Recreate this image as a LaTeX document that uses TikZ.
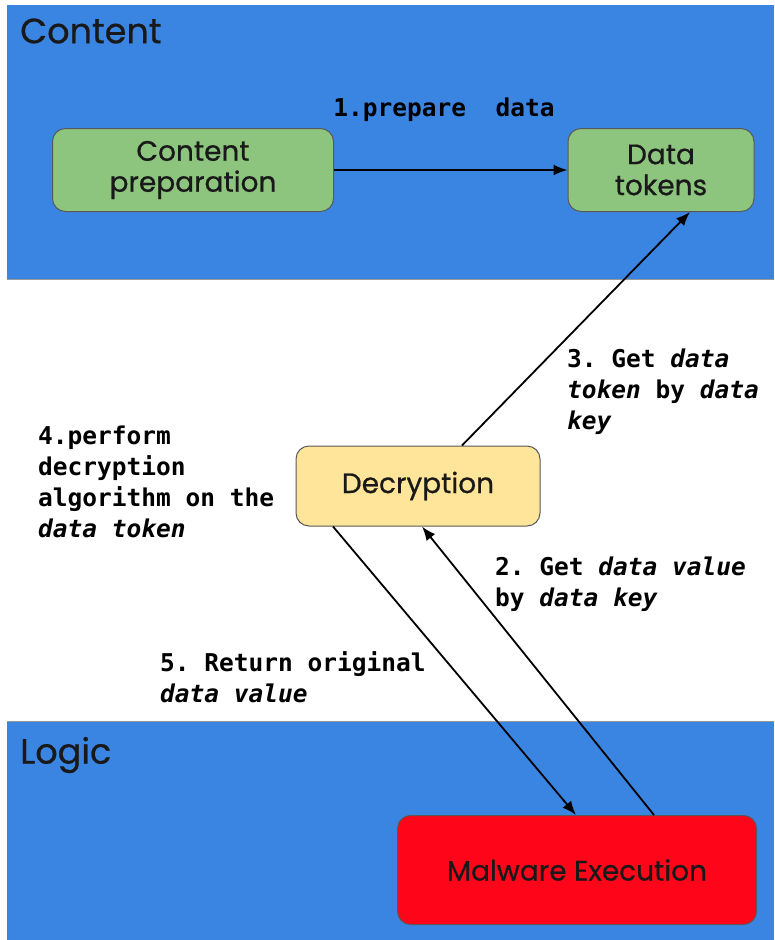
\documentclass[tikz,border=0pt]{standalone}
\usepackage{fontspec}
\setmainfont{Poppins}[FakeBold=0.7]
\setmonofont{DejaVu Sans Mono}
\usepackage{xcolor}
\usepackage{tikz}
\usetikzlibrary{arrows.meta, positioning}

\definecolor{bandblue}{RGB}{59,133,226}
\definecolor{boxgreen}{RGB}{141,196,126}
\definecolor{boxyellow}{RGB}{255,229,153}
\definecolor{boxred}{RGB}{255,5,26}

\begin{document}
\begin{tikzpicture}[ % pixel grid of the reference
    x=1pt, y=-1pt,
    band/.style={fill=bandblue, draw=none},
    title/.style={anchor=west, inner sep=0pt, text=black!90, font=\fontsize{35}{40}\selectfont},
    block/.style={rectangle, draw=black!65, line width=1pt, rounded corners=13pt, align=center, text=black!90, font=\fontsize{28}{31}\selectfont},
    step label/.style={anchor=north west, inner sep=0pt, align=left, font=\ttfamily\bfseries\fontsize{24.5}{31}\selectfont},
    line/.style={draw, line width=1.8pt, -{Latex[length=14pt, width=11pt]}}
    ]

    \useasboundingbox (0,0) rectangle (774,940);
    \fill[white] (0,0) rectangle (774,940);

    % Bands
    \path [band] (7,5) rectangle (774,279);
    \path [band] (7,721) rectangle (774,940);
    \draw [black!40, line width=1pt] (7,279) -- (774,279);
    \draw [black!40, line width=1pt] (7,721) -- (774,721);
    \node [title] (contentTitle) at (20,31) {Content};
    \node [title] (logicTitle) at (20,755) {Logic};

    % Boxes
    \node [block, fill=boxgreen, minimum width=281pt, minimum height=83pt] (prep) at (193,170) {Content\\preparation};
    \node [block, fill=boxgreen, minimum width=186pt, minimum height=83pt] (tokens) at (661,170) {Data\\tokens};
    \node [block, fill=boxyellow, minimum width=244pt, minimum height=80pt] (decrypt) at (418,486) {Decryption};
    \node [block, fill=boxred, minimum width=359pt, minimum height=109pt] (malware) at (577,870) {Malware Execution};

    % Step labels
    \node [step label, anchor=center] (l1) at (444,110) {1.prepare\ \ data};
    \node [step label] (l3) at (567,349) {3. Get \textit{data}\\\textit{token} by \textit{data}\\\textit{key}};
    \node [step label] (l4) at (38,426) {4.perform\\decryption\\algorithm on the\\\textit{data token}};
    \node [step label] (l2) at (495,557) {2. Get \textit{data value}\\by \textit{data key}};
    \node [step label] (l5) at (160,651) {5. Return original\\\textit{data value}};

    % Draw edges
    \path [line] (prep) -- (tokens);
    \path [line] ([xshift=-85pt]decrypt.south) -- ([xshift=-1pt]malware.north);
    \path [line] ([xshift=77pt]malware.north) -- ([xshift=4pt]decrypt.south);
    \path [line] ([xshift=44pt]decrypt.north) -- ([xshift=29pt]tokens.south);

\end{tikzpicture}
\end{document}
